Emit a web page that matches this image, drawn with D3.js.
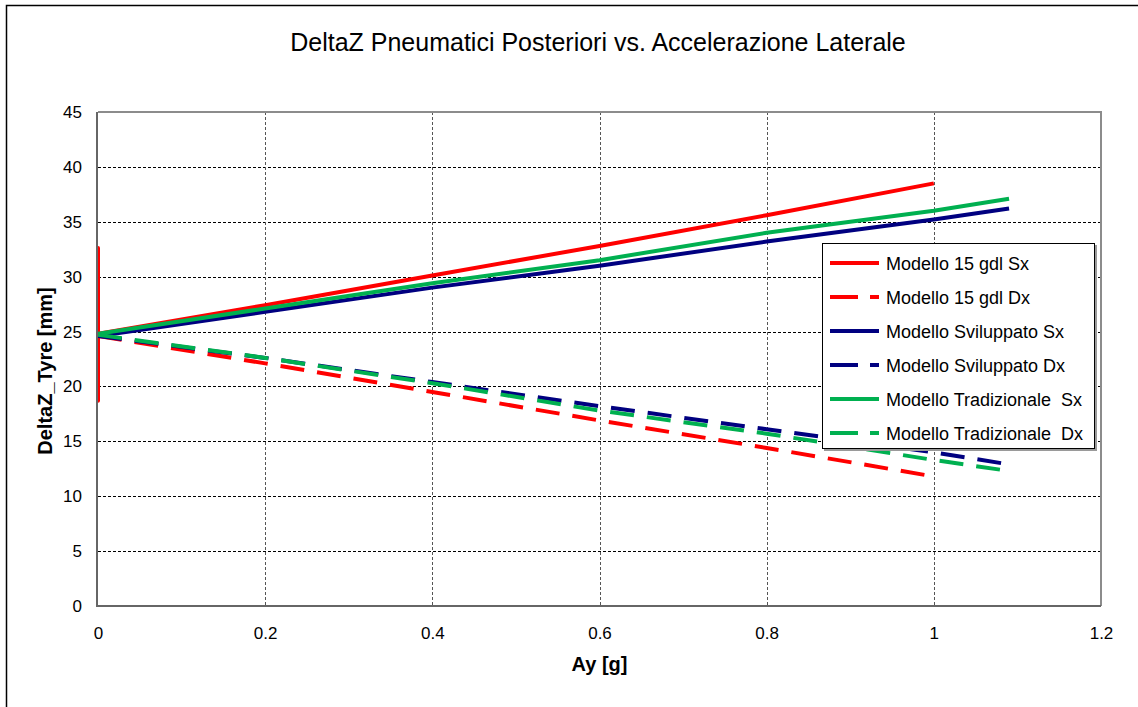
<!DOCTYPE html>
<html lang="en">
<head>
<meta charset="UTF-8">
<script src="https://d3js.org/d3.v7.min.js"></script>
<title>DeltaZ Pneumatici Posteriori</title>
<style>
  body { margin: 0; background: #fff; }
  text { font-family: "Liberation Sans", Arial, sans-serif; fill: #000; }
</style>
</head>
<body>
<div id="chart"></div>
<script>
// values (Ay [g], DeltaZ [mm])
var ay15 = [0, 0, 0, 0, 0.2, 0.4, 0.6, 0.8, 1.0];
var dz15Sx = [24.8, 32.6, 18.7, 24.8, 27.4, 30.1, 32.8, 35.6, 38.5];
var ay15Dx = [0, 0.2, 0.4, 0.6, 0.8, 1.0];
var dz15Dx = [24.6, 22.1, 19.5, 16.9, 14.4, 11.8];
var ayExt = [0, 0.2, 0.4, 0.6, 0.8, 1.0, 1.09];
var dzSvilSx = [24.6, 26.8, 29.0, 31.0, 33.2, 35.2, 36.2];
var dzSvilDx = [24.6, 22.6, 20.4, 18.2, 16.1, 14.0, 12.9];
var dzTradSx = [24.8, 27.1, 29.4, 31.5, 34.0, 36.0, 37.1];
var dzTradDx = [24.7, 22.6, 20.3, 17.8, 15.7, 13.3, 12.3];

var xTicks = [0, 0.2, 0.4, 0.6, 0.8, 1, 1.2];
var yTicks = [0, 5, 10, 15, 20, 25, 30, 35, 40, 45];

var series = [
  {name: "Modello 15 gdl Sx", x: ay15, y: dz15Sx, color: "#ff0000", dash: null},
  {name: "Modello 15 gdl Dx", x: ay15Dx, y: dz15Dx, color: "#ff0000", dash: "24,13"},
  {name: "Modello Sviluppato Sx", x: ayExt, y: dzSvilSx, color: "#000080", dash: null},
  {name: "Modello Sviluppato Dx", x: ayExt, y: dzSvilDx, color: "#000080", dash: "24,13"},
  {name: "Modello Tradizionale  Sx", x: ayExt, y: dzTradSx, color: "#00b050", dash: null},
  {name: "Modello Tradizionale  Dx", x: ayExt, y: dzTradDx, color: "#00b050", dash: "24,13"}
];

var W = 1138, H = 707;
var margin = {top: 112, right: 37, bottom: 101, left: 98},
    width = W - margin.left - margin.right,
    height = H - margin.top - margin.bottom;

var svg = d3.select("#chart").append("svg")
    .attr("width", W).attr("height", H);

// outer frame of the chart object
svg.append("path")
    .attr("d", "M6.5," + H + "V5.5H" + W)
    .attr("fill", "none").attr("stroke", "#000").attr("stroke-width", 1.5);

var g = svg.append("g")
    .attr("transform", "translate(" + margin.left + "," + margin.top + ")");

var x = d3.scaleLinear().domain([0, 1.2]).range([0, width]);
var y = d3.scaleLinear().domain([0, 45]).range([height, 0]);

// grid
g.append("g").selectAll("line")
  .data(yTicks.slice(1, -1)).enter().append("line")
    .attr("x1", 0).attr("x2", width)
    .attr("y1", function(d) { return Math.round(y(d)) + 0.5; })
    .attr("y2", function(d) { return Math.round(y(d)) + 0.5; })
    .attr("stroke", "#000").attr("stroke-dasharray", "3,2");
g.append("g").selectAll("line")
  .data(xTicks.slice(1, -1)).enter().append("line")
    .attr("y1", 0).attr("y2", height)
    .attr("x1", function(d) { return Math.round(x(d)) + 0.5; })
    .attr("x2", function(d) { return Math.round(x(d)) + 0.5; })
    .attr("stroke", "#555").attr("stroke-dasharray", "3,2");

// tick labels
var xAxis = g.append("g")
    .attr("transform", "translate(0," + (height + 18) + ")")
    .call(d3.axisBottom(x).tickValues(xTicks).tickSize(0).tickFormat(d3.format("~g")));
var yAxis = g.append("g")
    .attr("transform", "translate(-13,0)")
    .call(d3.axisLeft(y).tickValues(yTicks).tickSize(0));
[xAxis, yAxis].forEach(function(a) {
  a.select(".domain").remove();
  a.selectAll("text").attr("font-size", 17)
    .attr("font-family", "Liberation Sans, Arial, sans-serif").attr("fill", "#000");
});

// series
svg.append("defs").append("clipPath").attr("id", "clip")
  .append("rect").attr("width", width).attr("height", height);

var line = d3.line()
    .x(function(d) { return x(d[0]); })
    .y(function(d) { return y(d[1]); });

var plot = g.append("g").attr("clip-path", "url(#clip)");
series.forEach(function(s) {
  plot.append("path")
    .datum(d3.zip(s.x, s.y))
    .attr("d", line)
    .attr("fill", "none")
    .attr("stroke", s.color)
    .attr("stroke-width", 4)
    .attr("stroke-linejoin", "round")
    .attr("stroke-dasharray", s.dash);
});

// plot frame, drawn over the series
g.append("path")
    .attr("d", "M0,0H" + width + "V" + height)
    .attr("fill", "none").attr("stroke", "#8c8c8c").attr("stroke-width", 2);
g.append("path")
    .attr("d", "M-1,0V" + height + "H" + width)
    .attr("fill", "none").attr("stroke", "#666").attr("stroke-width", 2);

// titles
svg.append("text")
    .attr("x", 598).attr("y", 51)
    .attr("text-anchor", "middle")
    .attr("font-size", 25)
    .text("DeltaZ Pneumatici Posteriori vs. Accelerazione Laterale");
svg.append("text")
    .attr("x", margin.left + width / 2).attr("y", 671)
    .attr("text-anchor", "middle")
    .attr("font-size", 20).attr("font-weight", "bold")
    .text("Ay [g]");
svg.append("text")
    .attr("transform", "translate(52," + (margin.top + height / 2 + 12) + ") rotate(-90)")
    .attr("text-anchor", "middle")
    .attr("font-size", 20).attr("font-weight", "bold")
    .text("DeltaZ_Tyre [mm]");

// legend
var lg = svg.append("g").attr("transform", "translate(822,243)");
lg.append("rect")
    .attr("x", 2).attr("y", 2).attr("width", 273).attr("height", 206)
    .attr("fill", "#9a9a9a");
lg.append("rect")
    .attr("x", 0.5).attr("y", 0.5).attr("width", 272).attr("height", 205)
    .attr("fill", "#fff").attr("stroke", "#000");
series.forEach(function(s, i) {
  var yy = 20 + i * 34;
  lg.append("line")
    .attr("x1", 8).attr("x2", 57).attr("y1", yy).attr("y2", yy)
    .attr("stroke", s.color).attr("stroke-width", 4)
    .attr("stroke-dasharray", s.dash ? "28,12" : null);
  lg.append("text")
    .attr("x", 64).attr("y", yy + 7)
    .attr("font-size", 18)
    .attr("xml:space", "preserve")
    .text(s.name);
});
</script>
</body>
</html>
